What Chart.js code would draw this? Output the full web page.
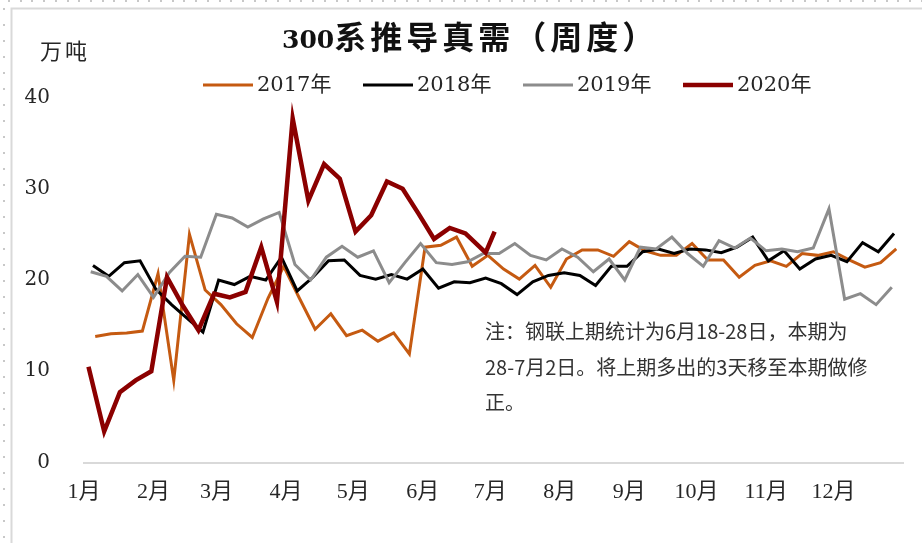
<!DOCTYPE html>
<html>
<head>
<meta charset="utf-8">
<title>300系推导真需（周度）</title>
<script src="https://cdn.jsdelivr.net/npm/chart.js@4/dist/chart.umd.min.js"></script>
<style>
  html,body{margin:0;padding:0;background:#fff;}
  canvas{display:block;}
</style>
</head>
<body>
<canvas id="c" width="922" height="543"></canvas>
<script>
/* ===== 數據 ===== */
const titleText='300系推导真需（周度）';
const unitText='万吨';
const years=['2017年','2018年','2019年','2020年'];
const monthLabels=['1月','2月','3月','4月','5月','6月','7月','8月','9月','10月','11月','12月'];
const monthStartDays=[0,31,59,90,120,151,181,212,243,273,304,334];
const yTicks=[0,10,20,30,40];

// 每年第一期的日序（1月1日=0），其後每週一期
const firstDay2017=5;
const firstDay2018=4;
const firstDay2019=3;
// 2020：6月28日、7月2日兩期不足一週
const days2020=[2,9,16,23,30,37,44,51,58,65,72,79,86,93,100,107,114,121,128,135,142,149,156,163,170,179,183];

const v2017=[13.8,14.1,14.2,14.4,20.7,9.0,25.0,18.9,17.3,15.2,13.7,18.0,21.5,18.0,14.6,16.3,13.9,14.5,13.3,14.2,
  11.9,23.6,23.8,24.7,21.5,22.7,21.2,20.1,21.6,19.2,22.3,23.3,23.3,22.6,24.2,23.2,22.7,22.7,24.0,22.2,
  22.2,20.3,21.6,22.1,21.5,22.9,22.7,23.1,22.2,21.4,21.9,23.4];
const v2018=[21.6,20.4,21.9,22.1,19.0,17.3,15.8,14.3,20.0,19.5,20.4,20.0,22.5,18.8,20.3,22.1,22.2,20.5,20.1,20.6,
  20.1,21.2,19.1,19.8,19.7,20.2,19.6,18.4,19.8,20.5,20.8,20.5,19.4,21.5,21.5,23.1,23.4,22.9,23.4,23.3,
  23.0,23.6,24.7,22.1,23.2,21.2,22.3,22.7,22.0,24.1,23.1,25.1];
const v2019=[20.9,20.4,18.8,20.6,18.1,20.8,22.6,22.5,27.2,26.8,25.8,26.7,27.4,21.7,20.0,22.5,23.7,22.5,23.2,19.7,
  21.9,24.0,21.9,21.7,22.0,22.9,22.9,24.0,22.7,22.2,23.4,22.5,20.9,22.3,20.0,23.6,23.4,24.7,22.9,21.5,
  24.3,23.5,24.6,23.2,23.4,23.1,23.5,27.8,17.9,18.5,17.3,19.2];
const v2020=[10.5,3.4,7.7,9.0,10.0,20.3,17.2,14.5,18.5,18.1,18.7,23.6,17.6,37.7,28.7,32.7,31.1,25.3,27.1,30.8,
  30.0,27.3,24.5,25.7,25.1,23.0,25.3];

const noteLines=['注：钢联上期统计为6月18-28日，本期为','28-7月2日。将上期多出的3天移至本期做修','正。'];

/* ===== 樣式 ===== */
const colors=['#C55A11','#000000','#8C8C8C','#8B0000'];
const widths=[3,3,3,4.5];
const textColor='#262626';
const cjk="'Noto Sans CJK SC'";

/* ===== 組點 ===== */
function weekly(first,n){ const d=[]; for(let i=0;i<n;i++) d.push(first+7*i); return d; }
function toPoints(days,vals){ return vals.map((v,i)=>({x:days[i],y:v})); }

const series=[
  toPoints(weekly(firstDay2017,v2017.length),v2017),
  toPoints(weekly(firstDay2018,v2018.length),v2018),
  toPoints(weekly(firstDay2019,v2019.length),v2019),
  toPoints(days2020,v2020)
];

/* ===== 外框、標題、圖例、註記 ===== */
const decor={
  id:'decor',
  beforeDraw(chart){
    const ctx=chart.ctx;
    ctx.save();
    ctx.fillStyle='#fff'; ctx.fillRect(0,0,chart.width,chart.height);
    ctx.fillStyle='#c8c8c8';
    for(let x=8;x<chart.width;x+=11.7) ctx.fillRect(Math.round(x),0,2,2);
    for(let y=8;y<chart.height;y+=16) ctx.fillRect(3,Math.round(y),2,2);
    ctx.strokeStyle='#d9d9d9'; ctx.lineWidth=2;
    ctx.beginPath();
    ctx.moveTo(11.5,chart.height); ctx.lineTo(11.5,8.5); ctx.lineTo(chart.width,8.5);
    ctx.stroke();
    ctx.restore();
  },
  afterDraw(chart){
    const ctx=chart.ctx;
    ctx.save();
    // 標題
    ctx.fillStyle='#111'; ctx.textAlign='left'; ctx.textBaseline='alphabetic';
    const num=titleText.match(/^\d+/)[0];
    ctx.font="bold 25px 'DejaVu Serif'";
    ctx.fillText(num,282,48);
    const w=ctx.measureText(num).width;
    ctx.font="bold 32px "+cjk;
    ctx.letterSpacing='4px';
    ctx.fillText(titleText.slice(num.length),282+w,49);
    ctx.letterSpacing='0px';

    // 單位
    ctx.fillStyle=textColor;
    ctx.font="22px "+cjk; ctx.textBaseline='middle';
    ctx.letterSpacing='3px';
    ctx.fillText(unitText,40,51);
    ctx.letterSpacing='0px';

    // 圖例
    ctx.font="21px 'DejaVu Serif', "+cjk;
    years.forEach((y,i)=>{
      const x0=203+i*160;
      ctx.strokeStyle=colors[i]; ctx.lineWidth=widths[i];
      ctx.beginPath(); ctx.moveTo(x0,85); ctx.lineTo(x0+50,85); ctx.stroke();
      ctx.fillStyle=textColor;
      ctx.fillText(y,x0+54,86);
    });

    // 註記
    ctx.fillStyle='#333';
    ctx.font="20px "+cjk;
    const ly=[331,367,402];
    noteLines.forEach((t,i)=>ctx.fillText(t,485,ly[i]));
    ctx.restore();
  }
};

/* ===== 圖表 ===== */
new Chart(document.getElementById('c'),{
  type:'line',
  data:{
    datasets:years.map((y,i)=>({
      label:y,
      data:series[i],
      borderColor:colors[i],
      backgroundColor:colors[i],
      borderWidth:widths[i],
      pointRadius:0,
      tension:0,
      fill:false,
      order:[3,2,1,0][i]
    }))
  },
  options:{
    responsive:false,
    animation:false,
    devicePixelRatio:1,
    layout:{padding:{left:0,right:19,top:97.5,bottom:0}},
    plugins:{legend:{display:false},title:{display:false},tooltip:{enabled:false}},
    scales:{
      x:{
        type:'linear',
        min:0,max:365,
        grid:{display:false,drawTicks:false},
        border:{display:true,color:'#d9d9d9',width:2},
        afterBuildTicks(scale){ scale.ticks=monthStartDays.map(v=>({value:v})); },
        afterFit(scale){ scale.height=80.5; },
        ticks:{
          autoSkip:false,maxRotation:0,padding:17,color:textColor,
          font:{family:"'Liberation Serif', "+cjk,size:22},
          callback:v=>monthLabels[monthStartDays.indexOf(v)]
        }
      },
      y:{
        min:0,max:40,
        grid:{display:false,drawTicks:false},
        border:{display:false},
        afterBuildTicks(scale){ scale.ticks=yTicks.map(v=>({value:v})); },
        afterFit(scale){ scale.width=84; },
        ticks:{padding:34,color:textColor,font:{family:"'DejaVu Serif'",size:20}}
      }
    }
  },
  plugins:[decor]
});
</script>
</body>
</html>
